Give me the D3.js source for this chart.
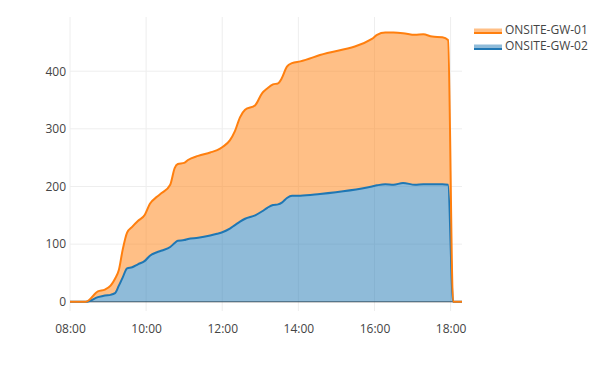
<!DOCTYPE html>
<html>
<head>
<meta charset="utf-8">
<script src="https://cdn.jsdelivr.net/npm/d3@7"></script>
<style>
  html, body { margin: 0; padding: 0; background: #fff; }
  #chart { width: 600px; height: 386px; }
  text { font-family: 'Open Sans', verdana, arial, sans-serif; fill: #444; font-size: 12px; }
</style>
</head>
<body>
<div id="chart"></div>
<script>
const times = [
  '08:00', '08:25', '08:44', '08:55', '09:04', '09:11', '09:17', '09:23', '09:30', '09:38',
  '09:47', '09:58', '10:06', '10:17', '10:25', '10:38', '10:45', '10:50', '11:00', '11:06',
  '11:22', '11:41', '11:52', '12:01', '12:12', '12:20', '12:28', '12:36', '12:52', '13:03',
  '13:11', '13:20', '13:28', '13:34', '13:42', '13:50', '14:03', '14:34', '15:56', '16:04',
  '16:17', '16:30', '16:45', '17:04', '17:17', '17:31', '17:47', '17:56', '18:04', '18:18'
];
const gw01 = [
  0, 0, 10, 10, 16, 25, 27, 48, 62, 70,
  75, 80, 90, 96, 100, 108, 130, 133, 134, 137,
  142, 144, 145, 148, 153, 163, 181, 189, 191, 205,
  207, 209, 210, 216, 228, 230, 233, 241, 256, 261,
  263, 264, 260, 260, 260, 256, 255, 251, 0, 0
];
const gw02 = [
  0, 0, 8, 11, 12, 15, 28, 42, 58, 60,
  65, 71, 80, 86, 89, 95, 102, 106, 107, 109,
  111, 115, 118, 121, 127, 133, 139, 144, 150, 157,
  163, 168, 169, 172, 180, 184, 184, 187, 200, 202,
  204, 203, 206, 203, 204, 204, 204, 203, 0, 0
];
const seriesNames = ['ONSITE-GW-01', 'ONSITE-GW-02'];
const yTicks = [0, 100, 200, 300, 400];

const render = () => {
  const width = 600;
  const height = 386;
  const plot = { left: 70, right: 462, top: 17, bottom: 311 };

  const svg = d3
    .select('#chart')
    .append('svg')
    .attr('width', width)
    .attr('height', height);

  const parseTime = d3.timeParse('%H:%M');
  const rows = times.map((t, i) => ({ time: parseTime(t), gw01: gw01[i], gw02: gw02[i] }));

  // stack: GW-02 on the bottom, GW-01 on top
  const stacked = d3.stack().keys(['gw02', 'gw01'])(rows);

  const xScale = d3
    .scaleTime()
    .domain(d3.extent(rows, (d) => d.time))
    .range([plot.left, plot.right]);

  const yScale = d3
    .scaleLinear()
    .domain([-16, 494])
    .range([plot.bottom, plot.top]);

  // grid
  const xTicks = d3.range(8, 19, 2).map((h) => parseTime(`${h}:00`));
  svg
    .append('g')
    .selectAll('line')
    .data(xTicks)
    .enter()
    .append('line')
    .attr('x1', (d) => xScale(d))
    .attr('x2', (d) => xScale(d))
    .attr('y1', plot.top)
    .attr('y2', plot.bottom)
    .attr('stroke', '#eee');

  svg
    .append('g')
    .selectAll('line')
    .data(yTicks.filter((d) => d !== 0))
    .enter()
    .append('line')
    .attr('x1', plot.left)
    .attr('x2', plot.right)
    .attr('y1', (d) => yScale(d))
    .attr('y2', (d) => yScale(d))
    .attr('stroke', '#eee');

  // zero line
  svg
    .append('line')
    .attr('x1', plot.left)
    .attr('x2', plot.right)
    .attr('y1', yScale(0))
    .attr('y2', yScale(0))
    .attr('stroke', '#444');

  // axes
  const xAxis = d3.axisBottom(xScale).tickValues(xTicks).tickFormat(d3.timeFormat('%H:%M')).tickSize(0).tickPadding(0);
  const xAxisGroup = svg
    .append('g')
    .attr('transform', `translate(0, ${plot.bottom + 13})`)
    .call(xAxis);
  xAxisGroup.select('.domain').remove();
  xAxisGroup.selectAll('text').attr('fill', '#444').style('font-size', '12px').style('font-family', null);

  const yAxis = d3.axisLeft(yScale).tickValues(yTicks).tickSize(0).tickPadding(0);
  const yAxisGroup = svg
    .append('g')
    .attr('transform', `translate(${plot.left - 4}, 0)`)
    .call(yAxis);
  yAxisGroup.select('.domain').remove();
  yAxisGroup.selectAll('text').attr('fill', '#444').style('font-size', '12px').style('font-family', null);

  // areas
  const colors = { gw01: '#ff7f0e', gw02: '#1f77b4' };
  const fills = { gw01: 'rgba(255,127,14,0.5)', gw02: 'rgba(31,119,180,0.5)' };

  const area = d3
    .area()
    .curve(d3.curveMonotoneX)
    .x((d) => xScale(d.data.time))
    .y0((d) => yScale(d[0]))
    .y1((d) => yScale(d[1]));

  const line = d3
    .line()
    .curve(d3.curveMonotoneX)
    .x((d) => xScale(d.data.time))
    .y((d) => yScale(d[1]));

  svg
    .append('g')
    .selectAll('path')
    .data(stacked)
    .enter()
    .append('path')
    .attr('d', area)
    .attr('fill', (s) => fills[s.key]);

  svg
    .append('g')
    .selectAll('path')
    .data(stacked)
    .enter()
    .append('path')
    .attr('d', line)
    .attr('fill', 'none')
    .attr('stroke', (s) => colors[s.key])
    .attr('stroke-width', 2)
    .attr('stroke-linejoin', 'round');

  // legend
  const legend = svg
    .append('g')
    .selectAll('g')
    .data(['gw01', 'gw02'])
    .enter()
    .append('g')
    .attr('transform', (d, i) => `translate(474, ${30 + i * 16})`);

  legend
    .append('rect')
    .attr('x', 0)
    .attr('y', -1.5)
    .attr('width', 28)
    .attr('height', 3.5)
    .attr('fill', (d) => fills[d]);

  legend
    .append('line')
    .attr('x1', 0)
    .attr('x2', 28)
    .attr('y1', 3)
    .attr('y2', 3)
    .attr('stroke', (d) => colors[d])
    .attr('stroke-width', 2);

  legend
    .append('text')
    .attr('x', 31)
    .attr('y', 4)
    .text((d, i) => seriesNames[i]);
};

render();
</script>
</body>
</html>
